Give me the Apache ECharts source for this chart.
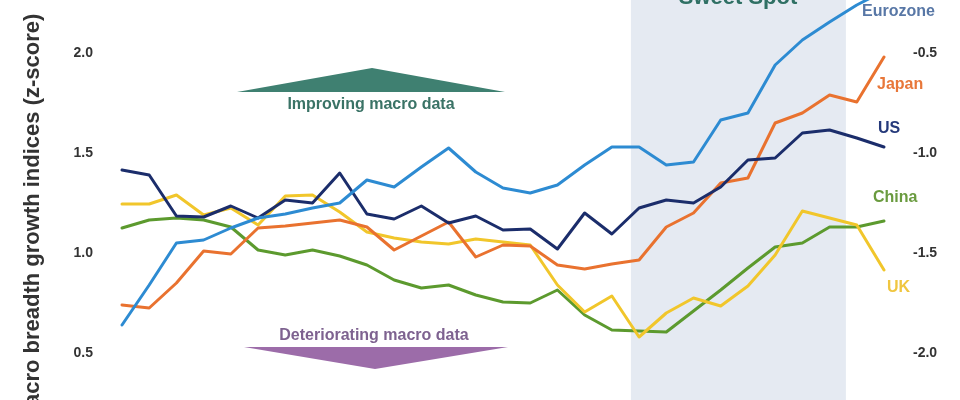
<!DOCTYPE html>
<html><head><meta charset="utf-8">
<script src="https://cdn.jsdelivr.net/npm/echarts@6/dist/echarts.min.js"></script>
<style>html,body{margin:0;padding:0;background:#fff}#c{width:960px;height:400px}</style>
</head><body><div id="c"></div>
<script>
const seriesNames = ['Eurozone', 'Japan', 'US', 'China', 'UK'];
const eurozone = [0.64,0.84,1.05,1.065,1.125,1.175,1.195,1.225,1.25,1.365,1.33,1.43,1.525,1.405,1.325,1.30,1.34,1.44,1.53,1.53,1.44,1.455,1.665,1.70,1.94,2.065,2.155,2.24,2.31];
const japan = [0.74,0.725,0.85,1.01,0.995,1.125,1.135,1.15,1.165,1.13,1.015,1.085,1.155,0.98,1.04,1.035,0.94,0.92,0.945,0.965,1.13,1.20,1.35,1.375,1.65,1.70,1.79,1.755,1.98];
const us = [1.415,1.39,1.185,1.18,1.235,1.175,1.265,1.25,1.40,1.195,1.17,1.235,1.15,1.185,1.115,1.12,1.02,1.20,1.095,1.225,1.265,1.25,1.33,1.465,1.475,1.60,1.615,1.575,1.53];
const china = [1.125,1.165,1.175,1.165,1.13,1.015,0.99,1.015,0.985,0.94,0.865,0.825,0.84,0.79,0.755,0.75,0.815,0.69,0.615,0.61,0.605,0.71,0.815,0.925,1.03,1.05,1.13,1.13,1.16];
const uk = [1.245,1.245,1.29,1.19,1.225,1.14,1.285,1.29,1.205,1.105,1.075,1.055,1.045,1.07,1.055,1.04,0.84,0.705,0.785,0.58,0.70,0.775,0.735,0.835,0.99,1.21,1.175,1.14,0.915];
const leftTicks = [0.5, 1.0, 1.5, 2.0];
const rightTicks = [-2.0, -1.5, -1.0, -0.5];
const leftRange = [0.265, 2.265];
const rightRange = [-2.235, -0.235];
const sweetSpotRange = [18.7, 26.6];

const FONT = '"Liberation Sans", Arial, sans-serif';
const colors = {Eurozone:'#2d8bd2', Japan:'#e9722f', US:'#1b2d6b', China:'#5c9a2e', UK:'#f1c62b'};
const labelColors = {Eurozone:'#5877a6', Japan:'#e8773a', US:'#25397a', China:'#6a9b3f', UK:'#f0c640'};
const values = {Eurozone:eurozone, Japan:japan, US:us, China:china, UK:uk};
const drawOrder = ['China', 'UK', 'Japan', 'US', 'Eurozone'];

const chart = echarts.init(document.getElementById('c'), null, {renderer:'canvas'});
const series = drawOrder.map(function(name, k){
  const s = {
    name: name, type: 'line', xAxisIndex: 0, yAxisIndex: 0,
    data: values[name].map(function(v, i){ return [i, v]; }),
    symbol: 'none', smooth: false, z: 3 + k, clip: false,
    lineStyle: {color: colors[name], width: 3, join: 'round', cap: 'round'},
    itemStyle: {color: colors[name]}
  };
  if (k === 0) {
    s.markArea = {silent: true, itemStyle: {color: '#e5eaf2'}, z: 1,
      data: [[{xAxis: sweetSpotRange[0]}, {xAxis: sweetSpotRange[1]}]]};
  }
  return s;
});

const labelPos = {Eurozone:[862, 12], Japan:[877, 85], US:[878, 129], China:[873, 198], UK:[887, 288]};
const graphics = seriesNames.map(function(name){
  return {type:'text', x: labelPos[name][0], y: labelPos[name][1], z: 10,
    style:{text: name, fill: labelColors[name], font: 'bold 16px ' + FONT, textAlign:'left', textVerticalAlign:'middle'}};
});
graphics.push(
  {type:'polygon', z: 10, shape:{points:[[237,92],[372,68],[505,92]]}, style:{fill:'#3f8071'}},
  {type:'text', x: 371, y: 105, z: 10, style:{text:'Improving macro data', fill:'#3a7366', font:'bold 16px ' + FONT, textAlign:'center', textVerticalAlign:'middle'}},
  {type:'polygon', z: 10, shape:{points:[[244,347],[375,369],[508,347]]}, style:{fill:'#9c6ca9'}},
  {type:'text', x: 374, y: 336, z: 10, style:{text:'Deteriorating macro data', fill:'#7e6290', font:'bold 16px ' + FONT, textAlign:'center', textVerticalAlign:'middle'}},
  {type:'text', x: 738, y: -2, z: 10, style:{text:'Sweet Spot', fill:'#2f7064', font:'bold 22px ' + FONT, textAlign:'center', textVerticalAlign:'middle'}},
  {type:'text', x: 33, y: 219, rotation: Math.PI/2, z: 10, style:{text:'Macro breadth growth indices (z-score)', fill:'#333', font:'bold 22px ' + FONT, textAlign:'center', textVerticalAlign:'middle'}}
);

chart.setOption({
  animation: false,
  backgroundColor: '#fff',
  grid: {left: 122, right: 76, top: 0, bottom: 0, containLabel: false},
  xAxis: {type:'value', min: 0, max: eurozone.length - 1, show: false},
  yAxis: [
    {type:'value', position:'left', min: leftRange[0], max: leftRange[1],
      axisLine:{show:false}, axisTick:{show:false}, splitLine:{show:false},
      axisLabel:{margin: 29, color:'#333', fontWeight:'bold', fontSize: 14, fontFamily: FONT,
        customValues: leftTicks, formatter: function(v){ return Number(v).toFixed(1); }}},
    {type:'value', position:'right', min: rightRange[0], max: rightRange[1],
      axisLine:{show:false}, axisTick:{show:false}, splitLine:{show:false},
      axisLabel:{margin: 29, color:'#333', fontWeight:'bold', fontSize: 14, fontFamily: FONT,
        customValues: rightTicks, formatter: function(v){ return Number(v).toFixed(1); }}}
  ],
  series: series,
  graphic: graphics
});
</script></body></html>
